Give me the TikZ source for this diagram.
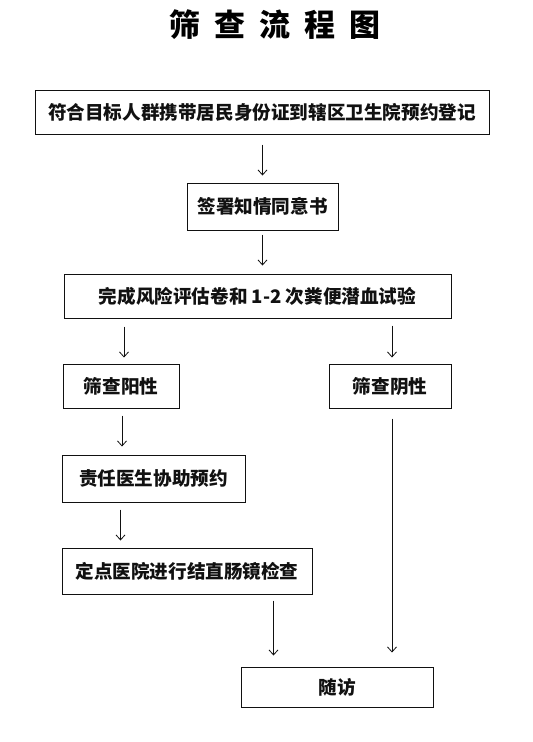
\documentclass[tikz,border=0pt]{standalone}
\usepackage{fontspec}
\setmainfont{Noto Sans CJK SC}
\usepackage{xcolor}
\usepackage{tikz}
\usetikzlibrary{arrows.meta,positioning,calc}
\definecolor{trazo}{HTML}{111111}

\begin{document}
\begin{tikzpicture}[x=1pt,y=-1pt,
    paso/.style={draw=trazo,line width=1pt,inner sep=0pt,align=center,
                 font=\fontsize{18.6}{20}\selectfont\bfseries\color{trazo}},
    flecha/.style={-{Straight Barb[length=5pt,width=9pt]},draw=trazo,line width=0.8pt},
    >={Straight Barb[length=5pt,width=9pt]}]
  \useasboundingbox (0,0) rectangle (533,742);

  \node[font=\fontsize{31}{34}\selectfont\bfseries] (titulo) at (275,25)
    {筛\hspace{14pt}查\hspace{14pt}流\hspace{14pt}程\hspace{14pt}图};

  \node[paso,minimum width=454pt,minimum height=44pt] (registro) at (262,112)
        {符合目标人群携带居民身份证到辖区卫生院预约登记};
  \node[paso,minimum width=151pt,minimum height=47pt] (consent) at (262.5,206.5)
        {签署知情同意书};
  \node[paso,minimum width=387pt,minimum height=44pt] (prueba) at (257.5,296)
        {完成风险评估卷和 1-2 次粪便潜血试验};
  \node[paso,minimum width=116pt,minimum height=44pt] (positivo) at (121,386)
        {筛查阳性};
  \node[paso,minimum width=122pt,minimum height=44pt] (negativo) at (390,386)
        {筛查阴性};
  \node[paso,minimum width=183pt,minimum height=47pt] (medico) at (153.5,478.5)
        {责任医生协助预约};
  \node[paso,minimum width=250pt,minimum height=46pt] (colono) at (187,571)
        {定点医院进行结直肠镜检查};
  \node[paso,minimum width=192pt,minimum height=40pt] (visita) at (337,687)
        {随访};

  \draw[flecha,shorten <=10pt,shorten >=7pt] (registro.south -| consent.north) -- (consent.north);
  \draw[flecha,shorten <=4pt,shorten >=8pt] (consent.south) -- (consent.south |- prueba.north);
  \draw[flecha,shorten <=8pt,shorten >=6pt] ([xshift=3pt]positivo.north |- prueba.south) -- ([xshift=3pt]positivo.north);
  \draw[flecha,shorten <=7pt,shorten >=6pt] ([xshift=2pt]negativo.north |- prueba.south) -- ([xshift=2pt]negativo.north);
  \draw[flecha,shorten <=7pt,shorten >=8pt] ([xshift=1pt]positivo.south) -- ([xshift=1pt]positivo.south |- medico.north);
  \draw[flecha,shorten <=7pt,shorten >=7pt] ([xshift=-33pt]medico.south) -- ([xshift=-33pt]medico.south |- colono.north);
  \draw[flecha,shorten <=6pt,shorten >=11pt] ([xshift=33pt]visita.north west |- colono.south) -- ([xshift=33pt]visita.north west);
  \draw[flecha,shorten <=10pt,shorten >=14pt] ([xshift=2pt]negativo.south) -- ([xshift=2pt]negativo.south |- visita.north);
\end{tikzpicture}
\end{document}
